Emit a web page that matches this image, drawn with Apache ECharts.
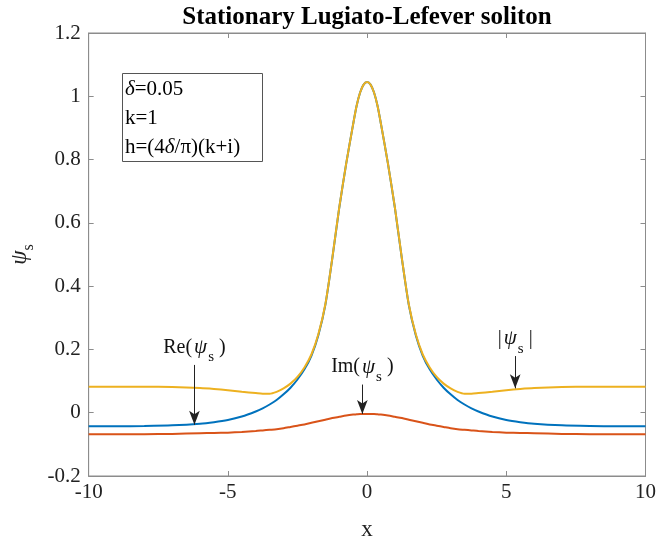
<!DOCTYPE html>
<html style="height: 100%">
<head>
<meta charset="utf-8">
</head>
<body style="height: 100%; margin: 0; background: #fff">
<div id="container" style="width: 659px; height: 546px"></div>
<script type="text/javascript" src="https://cdn.jsdelivr.net/npm/echarts@6/dist/echarts.min.js"></script>
<script type="text/javascript">
var xs = [-10, -9, -8, -7, -6, -5.5, -5, -4.5, -4, -3.75, -3.5, -3.25, -3, -2.75, -2.5, -2.25, -2, -1.75, -1.5, -1.25, -1, -0.75, -0.5, -0.375, -0.25, -0.125, 0,
          0.125, 0.25, 0.375, 0.5, 0.75, 1, 1.25, 1.5, 1.75, 2, 2.25, 2.5, 2.75, 3, 3.25, 3.5, 3.75, 4, 4.5, 5, 5.5, 6, 7, 8, 9, 10];
// Re(psi_s)
var reVals = [-0.043, -0.043, -0.042, -0.040, -0.035, -0.030, -0.023, -0.012, 0.004, 0.014, 0.026, 0.040, 0.058, 0.079, 0.105, 0.137, 0.180, 0.245, 0.340, 0.487, 0.647, 0.787, 0.912, 0.970, 1.012, 1.037, 1.045,
              1.037, 1.012, 0.970, 0.912, 0.787, 0.647, 0.487, 0.340, 0.245, 0.180, 0.137, 0.105, 0.079, 0.058, 0.040, 0.026, 0.014, 0.004, -0.012, -0.023, -0.030, -0.035, -0.040, -0.042, -0.043, -0.043];
// Im(psi_s)
var imVals = [-0.068, -0.068, -0.068, -0.067, -0.065, -0.064, -0.063, -0.061, -0.058, -0.056, -0.054, -0.052, -0.049, -0.045, -0.041, -0.037, -0.032, -0.027, -0.022, -0.017, -0.013, -0.009, -0.006, -0.005, -0.004, -0.004, -0.004,
              -0.004, -0.004, -0.005, -0.006, -0.009, -0.013, -0.017, -0.022, -0.027, -0.032, -0.037, -0.041, -0.045, -0.049, -0.052, -0.054, -0.056, -0.058, -0.061, -0.063, -0.064, -0.065, -0.067, -0.068, -0.068, -0.068];
// |psi_s|
var absVals = [0.082, 0.082, 0.082, 0.081, 0.078, 0.075, 0.071, 0.066, 0.062, 0.060, 0.060, 0.066, 0.077, 0.092, 0.113, 0.143, 0.184, 0.248, 0.342, 0.488, 0.648, 0.787, 0.912, 0.970, 1.012, 1.037, 1.045,
               1.037, 1.012, 0.970, 0.912, 0.787, 0.648, 0.488, 0.342, 0.248, 0.184, 0.143, 0.113, 0.092, 0.077, 0.066, 0.060, 0.060, 0.062, 0.066, 0.071, 0.075, 0.078, 0.081, 0.082, 0.082, 0.082];

// annotation arrows: [x, yStart, yEnd, label]
var arrows = [
    [-6.2, 0.151, -0.038, 'Re'],
    [-0.17, 0.089, -0.004, 'Im'],
    [5.32, 0.179, 0.077, 'Abs']
];

function pairs(ys) {
    var out = [];
    for (var i = 0; i < xs.length; i++) out.push([xs[i], ys[i]]);
    return out;
}

var serif = 'Liberation Serif';
var richTxt = {
    t: { fontFamily: serif, fontSize: 20, color: '#111' },
    i: { fontFamily: serif, fontSize: 21, fontStyle: 'italic', color: '#111', padding: [0, 1, 0, 2] },
    s: { fontFamily: serif, fontSize: 15, color: '#111', padding: [20, 5, 0, 0] }
};
var labelText = {
    Re: '{t|Re(}{i|ψ}{s|s}{t|)}',
    Im: '{t|Im(}{i|ψ}{s|s}{t|)}',
    Abs: '{t||}{i|ψ}{s|s}{t||}'
};

var markData = [];
for (var i = 0; i < arrows.length; i++) {
    var a = arrows[i];
    markData.push([
        { coord: [a[0], a[1]], label: { formatter: labelText[a[3]] } },
        { coord: [a[0], a[2]] }
    ]);
}

var dom = document.getElementById('container');
var myChart = echarts.init(dom);
var axisGray = '#8c8c8c';
var tickStyle = { inside: true, length: 5, lineStyle: { color: axisGray } };
var option = {
    backgroundColor: '#fff',
    animation: false,
    title: {
        text: 'Stationary Lugiato-Lefever soliton',
        left: 362,
        textAlign: 'center',
        top: 0,
        textStyle: { fontFamily: serif, fontSize: 25, fontWeight: 'bold', color: '#000' }
    },
    grid: { left: 87, right: 11, top: 33, bottom: 68, show: true, borderColor: axisGray, borderWidth: 1 },
    xAxis: [{
        type: 'value', min: -10, max: 10, interval: 5,
        name: 'x', nameLocation: 'middle', nameGap: 42,
        nameTextStyle: { fontFamily: serif, fontSize: 23, color: '#222' },
        axisLine: { onZero: false, lineStyle: { color: axisGray } },
        axisTick: tickStyle,
        axisLabel: { fontFamily: serif, fontSize: 21, color: '#222', margin: 6 },
        splitLine: { show: false }
    }, {
        type: 'value', min: -10, max: 10, interval: 5, position: 'top',
        axisLine: { onZero: false, lineStyle: { color: axisGray } },
        axisTick: tickStyle,
        axisLabel: { show: false }, splitLine: { show: false }
    }],
    yAxis: [{
        type: 'value', min: -0.2, max: 1.2, interval: 0.2,
        name: '{i|ψ}{s|s}', nameLocation: 'middle', nameGap: 50, nameRotate: 90,
        nameTextStyle: { rich: {
            i: { fontFamily: serif, fontSize: 23, fontStyle: 'italic', color: '#222' },
            s: { fontFamily: serif, fontSize: 16, color: '#222', padding: [18, 0, 0, 0] }
        } },
        axisLine: { onZero: false, lineStyle: { color: axisGray } },
        axisTick: tickStyle,
        axisLabel: { fontFamily: serif, fontSize: 21, color: '#222', margin: 8 },
        splitLine: { show: false }
    }, {
        type: 'value', min: -0.2, max: 1.2, interval: 0.2, position: 'right',
        axisLine: { onZero: false, lineStyle: { color: axisGray } },
        axisTick: tickStyle,
        axisLabel: { show: false }, splitLine: { show: false }
    }],
    graphic: [{
        type: 'rect',
        shape: { x: 122.5, y: 73.5, width: 140, height: 88 },
        style: { fill: '#fff', stroke: '#555', lineWidth: 1 },
        z: 100
    }, {
        type: 'text', left: 125, top: 79, z: 101,
        style: {
            text: '{i|δ}{t|=0.05}\n{t|k=1}\n{t|h=(4}{i|δ}{t|/π)(k+i)}',
            rich: {
                t: { fontFamily: serif, fontSize: 21, color: '#000', lineHeight: 29 },
                i: { fontFamily: serif, fontSize: 21, fontStyle: 'italic', color: '#000', lineHeight: 29 }
            }
        }
    }],
    series: [{
        name: 'Re', type: 'line', data: pairs(reVals), showSymbol: false, smooth: 0.25,
        lineStyle: { color: '#0072BD', width: 2 }, itemStyle: { color: '#0072BD' }, z: 2,
        markLine: {
            silent: true, symbol: ['none', 'arrow'], symbolSize: [8, 14],
            lineStyle: { color: '#222', width: 1, type: 'solid' },
            label: { show: true, position: 'start', distance: 0, rich: richTxt },
            data: markData
        }
    }, {
        name: 'Im', type: 'line', data: pairs(imVals), showSymbol: false, smooth: 0.25,
        lineStyle: { color: '#D95319', width: 2 }, itemStyle: { color: '#D95319' }, z: 2
    }, {
        name: 'Abs', type: 'line', data: pairs(absVals), showSymbol: false, smooth: 0.25,
        lineStyle: { color: '#EDB120', width: 2 }, itemStyle: { color: '#EDB120' }, z: 3
    }]
};
myChart.setOption(option);
</script>
</body>
</html>
